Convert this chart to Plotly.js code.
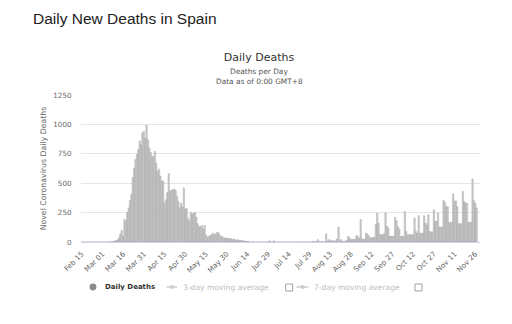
<!DOCTYPE html>
<html>
<head>
<meta charset="utf-8">
<script src="https://cdn.plot.ly/plotly-3.0.1.min.js"></script>
<style>html,body{margin:0;padding:0;background:#fff;}#chart{width:512px;height:324px;}</style>
</head>
<body>
<div id="chart"></div>
<script>
// Daily deaths in Spain, one value per day starting at START_DATE
const START_DATE = [2020, 1, 15]; // 2020-02-15 (month zero-based)
const dailyDeaths = [
  0,0,0,0,0,0,0,0,0,0,
  0,0,0,0,0,0,0,1,0,1,
  1,2,3,5,8,12,18,36,70,100,
  50,192,180,250,290,355,405,547,630,700,
  745,785,858,830,929,940,880,995,870,800,
  760,720,730,770,670,600,620,560,520,517,
  330,360,420,580,430,440,445,450,440,390,
  345,290,330,300,460,280,285,200,180,250,
  235,245,250,210,155,130,130,140,110,140,
  60,40,45,55,60,75,60,70,80,80,
  60,45,45,30,35,30,35,25,30,20,
  25,20,15,20,12,15,10,10,8,5,
  5,3,0,0,2,0,0,0,0,0,
  0,0,0,0,0,0,10,0,0,10,
  0,0,0,0,0,0,0,0,0,0,
  0,0,0,0,0,0,0,0,0,0,
  0,0,0,0,0,0,0,5,0,8,
  0,20,3,0,5,2,0,70,5,20,
  8,15,5,12,8,25,127,10,20,5,
  5,5,15,48,35,20,20,25,20,55,
  45,30,190,28,20,25,75,65,50,35,
  35,40,40,153,247,160,62,62,62,70,
  247,133,120,48,48,48,50,209,180,130,
  110,48,48,48,260,90,62,62,62,62,
  62,204,90,75,224,75,75,75,224,160,
  145,232,90,85,85,275,175,175,246,127,
  127,127,354,336,300,300,167,167,167,410,
  345,350,300,155,155,155,430,345,330,330,
  167,167,167,535,355,330,290
];
const yTicks = [0, 250, 500, 750, 1000, 1250];
const pageTitle = 'Daily New Deaths in Spain';
const chartTitle = 'Daily Deaths';
const subtitleLines = ['Deaths per Day', 'Data as of 0:00 GMT+8'];
const yTitle = 'Novel Coronavirus Daily Deaths';
const legendLabels = ['Daily Deaths', '3-day moving average', '7-day moving average'];

const DAY = 86400000;
const t0 = Date.UTC(START_DATE[0], START_DATE[1], START_DATE[2]);
const dates = dailyDeaths.map((_, i) => new Date(t0 + i * DAY).toISOString().slice(0, 10));

const FONT = 'DejaVu Sans, Verdana, sans-serif';

const trace = {
  type: 'bar',
  x: dates,
  y: dailyDeaths,
  marker: {color: '#d0d0d0', line: {color: '#8e8e8e', width: 0.35}},
  showlegend: false,
  hoverinfo: 'x+y'
};

// legend geometry helpers (pixel -> paper)
const L = 81, R = 480, T = 95, B = 242;
const px = v => (v - L) / (R - L);
const py = v => (B - v) / (B - T);
const LY = 287;

const shapes = [
  {type: 'circle', xref: 'paper', yref: 'paper', x0: px(89.6), x1: px(96.4), y0: py(290.4), y1: py(283.6),
   fillcolor: '#8c8c8c', line: {width: 0}},
  {type: 'line', xref: 'paper', yref: 'paper', x0: px(166.5), x1: px(177), y0: py(LY), y1: py(LY),
   line: {color: '#cccccc', width: 1.5}},
  {type: 'circle', xref: 'paper', yref: 'paper', x0: px(169.7), x1: px(173.7), y0: py(289), y1: py(285),
   fillcolor: '#cccccc', line: {width: 0}},
  {type: 'rect', xref: 'paper', yref: 'paper', x0: px(285.7), x1: px(292.7), y0: py(291), y1: py(284),
   fillcolor: '#ffffff', line: {color: '#8a8a8a', width: 0.8}},
  {type: 'line', xref: 'paper', yref: 'paper', x0: px(296.5), x1: px(308.5), y0: py(LY), y1: py(LY),
   line: {color: '#cccccc', width: 1.5}},
  {type: 'circle', xref: 'paper', yref: 'paper', x0: px(300.5), x1: px(304.5), y0: py(289), y1: py(285),
   fillcolor: '#cccccc', line: {width: 0}},
  {type: 'rect', xref: 'paper', yref: 'paper', x0: px(415), x1: px(422), y0: py(291), y1: py(284),
   fillcolor: '#ffffff', line: {color: '#8a8a8a', width: 0.8}}
];

const annotations = [
  {text: pageTitle, xref: 'paper', yref: 'paper', x: px(31), y: py(18.5), xanchor: 'left', yanchor: 'middle',
   showarrow: false, font: {family: 'Liberation Sans, Arial, sans-serif', size: 15.5, color: '#222222'}},
  {text: subtitleLines[0], xref: 'paper', yref: 'paper', x: px(259), y: py(71.7), xanchor: 'center', yanchor: 'middle',
   showarrow: false, font: {family: FONT, size: 7.4, color: '#555555'}},
  {text: subtitleLines[1], xref: 'paper', yref: 'paper', x: px(259), y: py(81.7), xanchor: 'center', yanchor: 'middle',
   showarrow: false, font: {family: FONT, size: 7.4, color: '#555555'}},
  {text: '<b>' + legendLabels[0] + '</b>', xref: 'paper', yref: 'paper', x: px(103), y: py(LY), xanchor: 'left', yanchor: 'middle',
   showarrow: false, font: {family: FONT, size: 7, color: '#333333'}},
  {text: legendLabels[1], xref: 'paper', yref: 'paper', x: px(180.5), y: py(LY), xanchor: 'left', yanchor: 'middle',
   showarrow: false, font: {family: FONT, size: 7.6, color: '#bdbdbd'}},
  {text: legendLabels[2], xref: 'paper', yref: 'paper', x: px(312), y: py(LY), xanchor: 'left', yanchor: 'middle',
   showarrow: false, font: {family: FONT, size: 7.6, color: '#bdbdbd'}}
];

const layout = {
  width: 512, height: 324,
  margin: {l: L, r: 512 - R, t: T, b: 324 - B, pad: 0},
  paper_bgcolor: '#ffffff', plot_bgcolor: '#ffffff',
  font: {family: FONT, color: '#666666', size: 7},
  title: {text: chartTitle, xref: 'container', yref: 'container', x: 259 / 512, xanchor: 'center',
          y: 1 - 57.5 / 324, yanchor: 'middle', font: {family: FONT, size: 11, color: '#333333'}},
  bargap: 0,
  xaxis: {
    type: 'date',
    range: [t0 - DAY / 2, t0 + 288.4 * DAY],
    tick0: t0, dtick: 15 * DAY, tickformat: '%b %d',
    tickangle: -45, tickfont: {family: FONT, size: 7.2, color: '#666666'},
    ticks: 'outside', ticklen: 4, tickcolor: 'rgba(0,0,0,0)',
    showgrid: false, showline: true, linecolor: '#ccd6eb', linewidth: 1, zeroline: false
  },
  yaxis: {
    range: [0, 1250], tickvals: yTicks, ticktext: yTicks.map(String),
    tickfont: {family: FONT, size: 7.2, color: '#666666'},
    ticks: 'outside', ticklen: 7, tickcolor: 'rgba(0,0,0,0)',
    showgrid: true, gridcolor: '#e6e6e6', gridwidth: 1, zeroline: false, showline: false,
    title: {text: yTitle, standoff: 5, font: {family: FONT, size: 7.8, color: '#666666'}}
  },
  shapes: shapes,
  annotations: annotations,
  showlegend: false
};

Plotly.newPlot('chart', [trace], layout, {displayModeBar: false, staticPlot: true});
</script>
</body>
</html>
